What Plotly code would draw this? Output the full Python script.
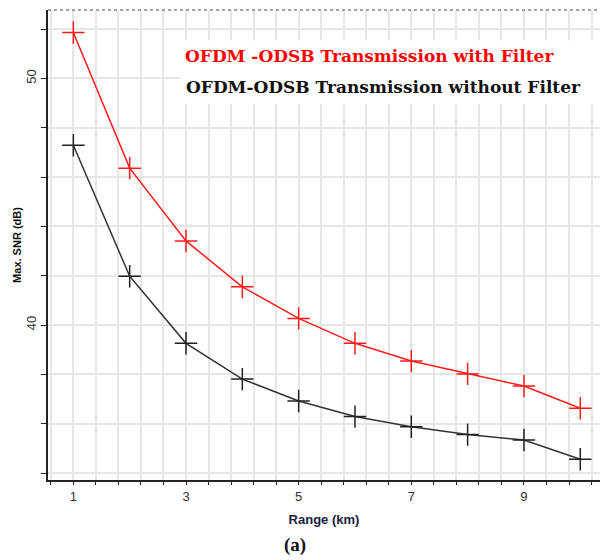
import plotly.graph_objects as go

range_km = [1, 2, 3, 4, 5, 6, 7, 8, 9, 10]
snr_with_filter = [51.86, 46.36, 43.41, 41.55, 40.27, 39.26, 38.54, 38.02, 37.53, 36.63]
snr_without_filter = [47.29, 41.98, 39.26, 37.81, 36.92, 36.29, 35.88, 35.56, 35.34, 34.56]
name_with = "OFDM -ODSB Transmission with Filter"
name_without = "OFDM-ODSB Transmission without Filter"

fig = go.Figure()
fig.add_trace(go.Scatter(
    x=range_km, y=snr_with_filter, mode="lines+markers", name=name_with,
    line=dict(color="#ff1a1a", width=1.5),
    marker=dict(symbol="cross-thin", size=16, line=dict(color="#ff1a1a", width=1.5)),
    showlegend=False))
fig.add_trace(go.Scatter(
    x=range_km, y=snr_without_filter, mode="lines+markers", name=name_without,
    line=dict(color="#333333", width=1.5),
    marker=dict(symbol="cross-thin", size=16, line=dict(color="#222222", width=1.5)),
    showlegend=False))

grid = "#e6e6e6"
fig.update_xaxes(
    range=[0.55, 10.35], tick0=1, dtick=2, showgrid=True, gridcolor=grid, gridwidth=1.5,
    ticks="outside", ticklen=3, tickcolor="#222", zeroline=False,
    showline=True, linecolor="#222", linewidth=2,
    minor=dict(dtick=0.4, tick0=1, showgrid=True, gridcolor=grid, gridwidth=1.5,
               ticks="outside", ticklen=3, tickcolor="#222"),
    tickfont=dict(family="Liberation Sans", size=13, color="#333"),
    title=dict(text="<b>Range (km)</b>", font=dict(family="Liberation Sans", size=13, color="#1a1a40"), standoff=12),
)
fig.update_yaxes(
    range=[33.72, 52.77], tick0=40, dtick=10, showgrid=True, gridcolor=grid, gridwidth=1.5,
    ticks="outside", ticklen=5, tickcolor="#222", zeroline=False, tickangle=-90,
    showline=True, linecolor="#222", linewidth=2,
    minor=dict(dtick=2, showgrid=True, gridcolor=grid, gridwidth=1.5,
               ticks="outside", ticklen=5, tickcolor="#222"),
    tickfont=dict(family="Liberation Sans", size=13, color="#333"),
    title=dict(text="<b>Max. SNR (dB)</b>", font=dict(family="Liberation Sans", size=11, color="#111"), standoff=0),
)

# dotted top border
fig.add_shape(type="line", xref="paper", yref="paper", x0=0, x1=1, y0=1, y1=1,
              line=dict(color="#888", width=1.5, dash="dot"))
# legend box (white) with text entries
fig.add_shape(type="rect", xref="paper", yref="paper", x0=0.24, x1=1.0, y0=0.80, y1=0.935,
              fillcolor="white", line=dict(width=0), layer="above")
fig.add_annotation(xref="paper", yref="paper", x=0.245, y=0.902, xanchor="left", yanchor="middle",
                   text="<b>" + name_with + "</b>", showarrow=False,
                   font=dict(family="DejaVu Serif", size=17, color="#ff0000"))
fig.add_annotation(xref="paper", yref="paper", x=0.247, y=0.836, xanchor="left", yanchor="middle",
                   text="<b>" + name_without + "</b>", showarrow=False,
                   font=dict(family="DejaVu Serif", size=17, color="#111"))
fig.add_annotation(xref="paper", yref="paper", x=0.447, y=-0.138, xanchor="center", yanchor="middle",
                   text="<b>(a)</b>", showarrow=False,
                   font=dict(family="Liberation Serif", size=19, color="#111"))

fig.update_layout(
    width=604, height=560,
    margin=dict(l=48, r=4, t=10, b=80),
    plot_bgcolor="white", paper_bgcolor="white",
)
fig.write_html("out.html")
